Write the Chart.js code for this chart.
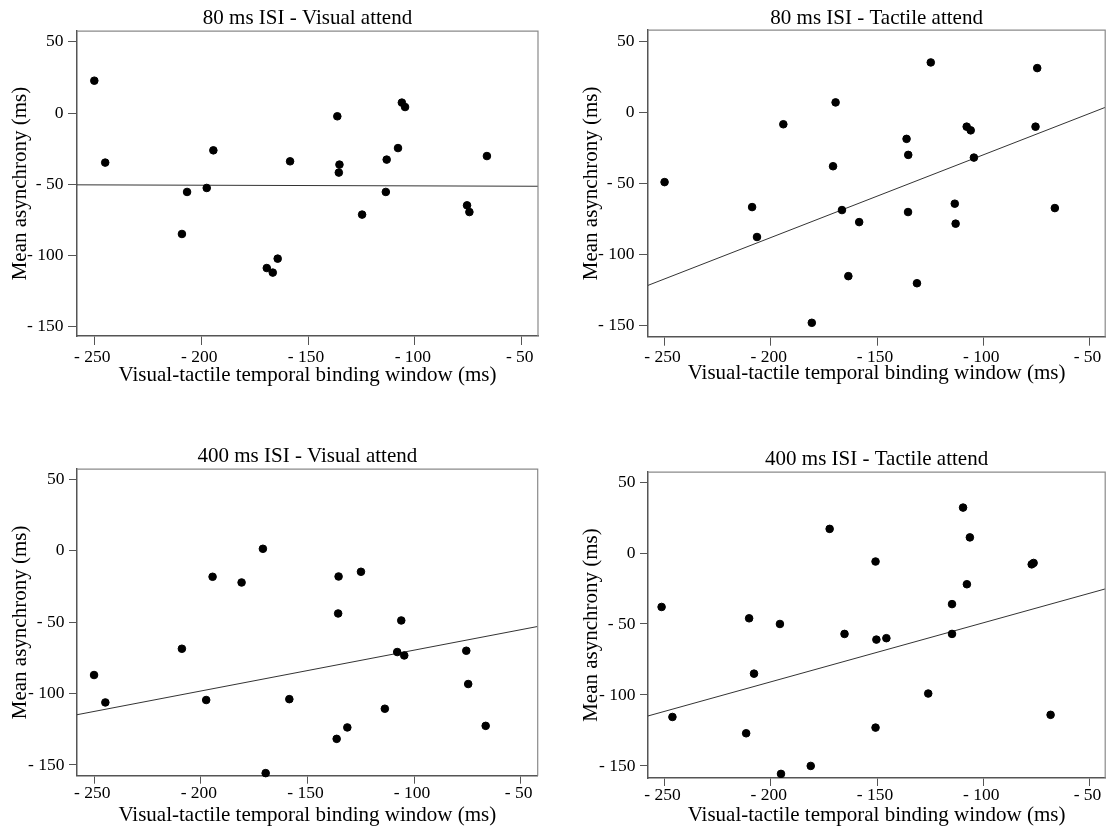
<!DOCTYPE html>
<html>
<head>
<meta charset="utf-8">
<script src="https://cdn.jsdelivr.net/npm/chart.js@4/dist/chart.umd.min.js"></script>
<style>
  body { margin: 0; background: #fff; width: 1110px; height: 829px; overflow: hidden; position: relative; }
  canvas { position: absolute; }
</style>
</head>
<body>
<canvas id="c1" width="555" height="400" style="left:0;top:0"></canvas>
<canvas id="c2" width="539" height="400" style="left:571px;top:0"></canvas>
<canvas id="c3" width="555" height="389" style="left:0;top:440px"></canvas>
<canvas id="c4" width="539" height="389" style="left:571px;top:440px"></canvas>
<script>
// 80 ms ISI - Visual attend
let tbw80Vis = [-250, -244.9, -209, -206.6, -197.4, -194.3, -169.3, -166.5, -164.2, -158.4, -136.3, -135.3, -135.6, -124.7, -113.6, -113.2, -107.9, -106.1, -104.6, -75.6, -74.5, -66.3];
let asy80Vis = [22.7, -34.8, -84.9, -55.4, -52.6, -26.2, -108.8, -112, -102.2, -33.9, -2.3, -36.2, -41.8, -71.3, -55.4, -32.7, -24.6, 7.3, 4.2, -64.8, -69.5, -30.2];
let fitX80Vis = [-258.1, -42.4];
let fitY80Vis = [-50.4, -51.4];

// 80 ms ISI - Tactile attend
let tbw80Tac = [-250, -208.8, -206.5, -194.1, -180.7, -170.7, -169.5, -166.5, -163.5, -158.4, -136.1, -135.3, -135.4, -131.2, -124.7, -113.4, -113, -107.8, -105.9, -104.4, -75.4, -74.6, -66.3];
let asy80Tac = [-49.2, -66.8, -87.9, -8.4, -148.4, -38, 7, -68.9, -115.5, -77.4, -18.7, -30, -70.3, -120.5, 35.2, -64.4, -78.5, -10.1, -12.7, -31.9, -10.1, 31.2, -67.5];
let fitX80Tac = [-257.8, -42.6];
let fitY80Tac = [-122, 3.5];

// 400 ms ISI - Visual attend
let tbw400Vis = [-250.1, -244.8, -208.9, -197.5, -194.5, -180.9, -170.9, -169.6, -158.5, -136.3, -135.4, -135.6, -131.3, -124.9, -113.7, -107.9, -106, -104.6, -75.5, -74.6, -66.4];
let asy400Vis = [-87, -106.2, -68.6, -104.5, -18.2, -22.2, 1.4, -155.7, -103.9, -131.7, -18, -43.9, -123.7, -14.7, -110.6, -70.9, -48.8, -73.3, -70, -93.3, -122.6];
let fitX400Vis = [-258.1, -42];
let fitY400Vis = [-114.8, -53];

// 400 ms ISI - Tactile attend
let tbw400Tac = [-251.4, -246.3, -211.6, -210.2, -207.9, -195.7, -195.2, -181.2, -172.3, -165.3, -150.7, -150.3, -145.6, -150.7, -125.9, -114.7, -114.7, -109.5, -107.7, -106.3, -77.2, -76.3, -68.3];
let asy400Tac = [-38, -115.5, -127, -46, -85, -50, -155.6, -150, 17, -57, -6, -61, -60, -123, -99, -36, -57, 32, -22, 11, -8, -7, -114];
let fitX400Tac = [-257.8, -42.6];
let fitY400Tac = [-114.8, -25.3];

// axis extents
let xRange80Vis = [-258.1, -42.4], yRange80Vis = [-156.5, 57.5];
let xRange80Tac = [-257.8, -42.6], yRange80Tac = [-158.2, 58];
let xRange400Vis = [-258.1, -42], yRange400Vis = [-157.5, 57.2];
let xRange400Tac = [-257.8, -42.6], yRange400Tac = [-158.5, 57];

Chart.defaults.font.family = "'Liberation Serif', 'Times New Roman', serif";
Chart.defaults.color = '#000';

// top and right edges of the plot box
const frame = {
    id: 'frame',
    afterDatasetsDraw(chart) {
        const ctx = chart.ctx, a = chart.chartArea;
        ctx.save();
        ctx.strokeStyle = '#8a8a8a';
        ctx.lineWidth = 1.2;
        ctx.beginPath();
        ctx.moveTo(a.left, a.top);
        ctx.lineTo(a.right, a.top);
        ctx.lineTo(a.right, a.bottom);
        ctx.stroke();
        ctx.restore();
    }
};

function fmt(v) {
    return v < 0 ? '- ' + Math.abs(v) : String(v);
}

function pts(xs, ys) {
    return xs.map((x, i) => ({ x: x, y: ys[i] }));
}

function makePanel(id, title, xs, ys, fx, fy, xr, yr, lay) {
    new Chart(document.getElementById(id), {
        type: 'scatter',
        data: {
            datasets: [{
                data: pts(xs, ys),
                backgroundColor: '#000',
                borderColor: '#000',
                pointRadius: 3.8,
                pointHoverRadius: 3.8,
                clip: false
            }, {
                type: 'line',
                data: pts(fx, fy),
                borderColor: '#333',
                borderWidth: 1,
                pointRadius: 0,
                fill: false
            }]
        },
        options: {
            responsive: false,
            animation: false,
            events: [],
            layout: { padding: { left: 0, right: lay.padRight, top: 0, bottom: 0 } },
            plugins: {
                legend: { display: false },
                tooltip: { enabled: false },
                title: {
                    display: true,
                    text: title,
                    fullSize: false,
                    color: '#000',
                    font: { size: 21, weight: 'normal', lineHeight: 1.1 },
                    padding: { top: lay.titleTop, bottom: lay.titleBottom }
                }
            },
            scales: {
                x: {
                    type: 'linear',
                    min: xr[0],
                    max: xr[1],
                    afterFit: s => { s.height = lay.xAxisH; },
                    border: { display: true, color: '#555', width: 1.5 },
                    grid: { drawOnChartArea: false, drawTicks: true, tickLength: lay.tick, color: '#555' },
                    ticks: {
                        stepSize: 50, includeBounds: false, autoSkip: false, maxRotation: 0,
                        color: '#000', font: { size: 17.5 }, padding: lay.xTickPad, labelOffset: -2,
                        callback: fmt
                    },
                    title: {
                        display: true,
                        text: 'Visual-tactile temporal binding window (ms)',
                        color: '#000',
                        font: { size: 21, lineHeight: 1.2 },
                        padding: { top: 0, bottom: lay.xTitlePad }
                    }
                },
                y: {
                    type: 'linear',
                    min: yr[0],
                    max: yr[1],
                    afterFit: s => { s.width = 77; },
                    border: { display: true, color: '#555', width: 1.5 },
                    grid: { drawOnChartArea: false, drawTicks: true, tickLength: lay.tick, color: '#555' },
                    ticks: {
                        stepSize: 50, includeBounds: false, autoSkip: false,
                        color: '#000', font: { size: 17.5 }, padding: 4.5,
                        callback: fmt
                    },
                    title: {
                        display: true,
                        text: 'Mean asynchrony (ms)',
                        color: '#000',
                        font: { size: 21, lineHeight: 1.2 },
                        padding: { top: 7.5, bottom: 0 }
                    }
                }
            }
        },
        plugins: [frame]
    });
}

makePanel('c1', '80 ms ISI - Visual attend', tbw80Vis, asy80Vis, fitX80Vis, fitY80Vis, xRange80Vis, yRange80Vis,
    { padRight: 17, titleTop: 7, titleBottom: 1, xAxisH: 64, tick: 9, xTickPad: 1.5, xTitlePad: 12 });
makePanel('c2', '80 ms ISI - Tactile attend', tbw80Tac, asy80Tac, fitX80Tac, fitY80Tac, xRange80Tac, yRange80Tac,
    { padRight: 2, titleTop: 7, titleBottom: 0, xAxisH: 63.3, tick: 9, xTickPad: 1, xTitlePad: 14 });
makePanel('c3', '400 ms ISI - Visual attend', tbw400Vis, asy400Vis, fitX400Vis, fitY400Vis, xRange400Vis, yRange400Vis,
    { padRight: 17.3, titleTop: 5, titleBottom: 1, xAxisH: 53.3, tick: 8, xTickPad: -1, xTitlePad: 1 });
makePanel('c4', '400 ms ISI - Tactile attend', tbw400Tac, asy400Tac, fitX400Tac, fitY400Tac, xRange400Tac, yRange400Tac,
    { padRight: 3, titleTop: 8, titleBottom: 1, xAxisH: 51, tick: 8, xTickPad: -1, xTitlePad: 1 });
</script>
</body>
</html>
